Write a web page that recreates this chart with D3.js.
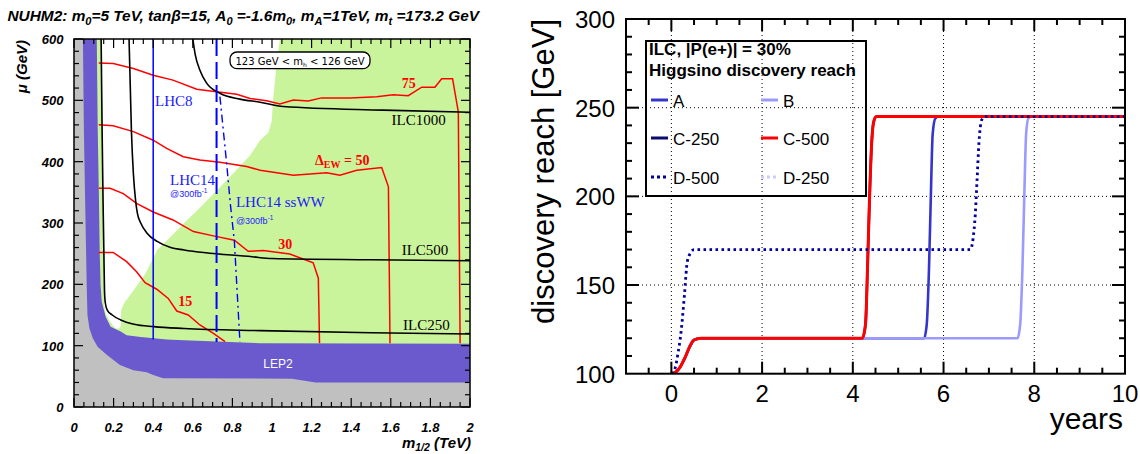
<!DOCTYPE html>
<html><head><meta charset="utf-8">
<script src="https://cdn.jsdelivr.net/npm/d3@7"></script>
<style>body{margin:0;background:#fff}svg{display:block}</style>
</head><body><svg id="c" width="1140" height="454"></svg>
<script>
// ================= LEFT PANEL DATA (NUHM2 plane: m1/2 [TeV], mu [GeV]) =================
const m12Ticks = [0, 0.2, 0.4, 0.6, 0.8, 1, 1.2, 1.4, 1.6, 1.8, 2];
const m12TickLabels = ["0", "0.2", "0.4", "0.6", "0.8", "1", "1.2", "1.4", "1.6", "1.8", "2"];
const muTicks = [0, 100, 200, 300, 400, 500, 600];
// excluded (gray) region upper boundary
const grayTop = [[0.045,600],[0.05,450],[0.056,340],[0.06,272],[0.064,200],[0.068,150],[0.078,128],[0.095,112],[0.12,98],[0.165,85],[0.232,68.5],[0.3,60],[0.367,56.5],[0.4,52],[0.45,47],[1.1,46],[1.18,42],[1.22,40],[2,40]];
// LEP2 band upper boundary
const lep2Top = [[0.115,600],[0.12,450],[0.126,340],[0.13,250],[0.134,200],[0.14,172],[0.16,147],[0.185,131],[0.236,123],[0.266,117],[0.337,114],[0.468,110],[0.556,109],[0.94,104],[2,103]];
// region NOT satisfying 123 < mh < 126 GeV (white)
const noHiggsRegion = [[0.137,600],[1.04,600],[1.024,561],[1.007,506],[0.998,465],[0.981,447],[0.94,435],[0.889,410],[0.805,381],[0.636,325],[0.556,300],[0.505,283],[0.42,256],[0.362,218],[0.303,191],[0.253,169],[0.238,158],[0.236,132],[0.227,128],[0.21,128],[0.194,134],[0.177,142],[0.16,153],[0.152,167],[0.15,250],[0.146,400],[0.142,500]];
// ILC reach contours
const ilc250 = [[0.137,600],[0.142,450],[0.147,330],[0.151,250],[0.154,190],[0.158,170],[0.168,158],[0.193,150],[0.236,142],[0.303,135],[0.404,131],[0.556,128],[0.94,124.5],[1.5,121],[2,119]];
const ilc500 = [[0.278,600],[0.29,450],[0.3,380],[0.311,337],[0.32,316],[0.337,300],[0.37,283],[0.42,270],[0.488,260],[0.556,256],[0.9,245],[1.0,242],[1.5,240],[2,238.5]];
const ilc1000 = [[0.6,600],[0.612,575],[0.636,549],[0.67,528],[0.737,511.5],[0.838,502],[0.94,497],[1.057,490],[1.562,484],[2,480.5]];
// Delta_EW contours
const dew15 = [[0.125,252],[0.198,252],[0.266,237],[0.316,220.6],[0.359,202.7],[0.418,192],[0.476,177],[0.519,156.5],[0.577,150],[0.636,133.7],[0.704,120],[0.763,106.5]];
const dew30 = [[0.125,356.5],[0.182,356.5],[0.249,348],[0.316,332],[0.4,318],[0.5,305],[0.603,286],[0.704,279],[0.81,272],[0.88,254],[0.956,255],[1.09,249.5],[1.208,235],[1.234,210],[1.24,104]];
const dew50 = [[0.125,460],[0.198,458.7],[0.3,449],[0.4,435],[0.468,421.8],[0.552,408],[0.636,402.7],[0.737,399],[0.872,392],[0.94,386],[1.108,378],[1.276,382],[1.343,378],[1.428,386],[1.554,390.4],[1.588,359],[1.596,104]];
const dew75 = [[0.125,561],[0.198,560],[0.3,552],[0.4,541],[0.5,533],[0.62,518],[0.72,514],[0.822,510],[0.889,503],[0.973,499.4],[1.04,494],[1.108,500.6],[1.183,499],[1.25,504],[1.394,504],[1.529,506],[1.612,509],[1.688,507.5],[1.756,521.4],[1.823,521.4],[1.857,535],[1.912,535],[1.941,481],[1.95,104]];
// LHC reach lines
const lhc8 = [[0.4,600],[0.4,110]];
const lhc14 = [[0.72,600],[0.72,106]];
const lhc14ssww = [[0.737,506],[0.771,397],[0.79,330],[0.81,270],[0.838,106]];

// ================= RIGHT PANEL DATA (discovery reach vs years) =================
const yearTicks = [0, 2, 4, 6, 8, 10];
const reachTicks = [100, 150, 200, 250, 300];
const years_A   = [0,0.1,0.2,0.3,0.4,0.5,0.65,5.57,5.63,5.68,5.72,5.76,5.82,5.9,10];
const reach_A   = [100,101,104,109,115,119,120,120,128,160,200,235,244,245,245];
const years_B   = [0,0.1,0.2,0.3,0.4,0.5,0.65,7.63,7.69,7.74,7.78,7.82,7.87,7.95,10];
const reach_B   = [100,101,104,109,115,119,120,120,128,160,200,235,244,245,245];
const years_C250 = [0,0.1,0.2,0.3,0.4,0.5,0.65,4.21,4.28,4.33,4.37,4.42,4.46,4.52,10];
const reach_C250 = [100,101,104,109,115,119,120,120,128,165,200,232,242,245,245];
const years_C500 = [0,0.1,0.2,0.3,0.4,0.5,0.65,4.21,4.28,4.33,4.37,4.42,4.46,4.52,10];
const reach_C500 = [100,101,104,109,115,119,120,120,128,165,200,232,242,245,245];
const years_D500 = [0,0.08,0.15,0.22,0.29,0.35,0.42,0.5,6.59,6.65,6.7,6.74,6.78,6.84,6.92,10];
const reach_D500 = [100,103,112,125,145,163,168,170,170,176,190,210,230,243,245,245];
const years_D250 = [0,0.08,0.15,0.22,0.29,0.35,0.42,0.5,6.59,6.65,6.7,6.74,6.78,6.84,6.92,10];
const reach_D250 = [100,103,112,125,145,163,168,170,170,176,190,210,230,243,245,245];
const seriesNames = ["A", "B", "C-250", "C-500", "D-500", "D-250"];

// ================= DRAWING =================
const svg = d3.select("#c");
const SANS = "'Liberation Sans', Arial, Helvetica, sans-serif";
const SERIF = "'Liberation Serif', 'Times New Roman', serif";

function rich(g, x, y, parts, attrs) {
  const t = g.append("text").attr("x", x).attr("y", y);
  for (const k in attrs) t.attr(k, attrs[k]);
  let cur = 0;
  parts.forEach(([s, shift, size]) => {
    const sp = t.append("tspan").text(s).attr("dy", shift - cur);
    if (size) sp.attr("font-size", size);
    cur = shift;
  });
  return t;
}

// ---------- LEFT PANEL ----------
const L = {x0: 74, x1: 470, y0: 39, y1: 407};
const xL = d3.scaleLinear().domain([0, 2]).range([L.x0, L.x1]);
const yL = d3.scaleLinear().domain([0, 600]).range([L.y1, L.y0]);
const gL = svg.append("g");
svg.append("defs").append("clipPath").attr("id", "clipL")
  .append("rect").attr("x", L.x0).attr("y", L.y0).attr("width", L.x1 - L.x0).attr("height", L.y1 - L.y0);
const pl = gL.append("g").attr("clip-path", "url(#clipL)");
const lineL = d3.line().x(d => xL(d[0])).y(d => yL(d[1]));
const smoothL = d3.line().x(d => xL(d[0])).y(d => yL(d[1])).curve(d3.curveMonotoneX);

// green background (Higgs mass allowed)
pl.append("rect").attr("x", L.x0).attr("y", L.y0).attr("width", L.x1 - L.x0).attr("height", L.y1 - L.y0).attr("fill", "#caf49b");
pl.append("path").attr("d", lineL(noHiggsRegion) + "Z").attr("fill", "#ffffff");
// LEP2 band and excluded region
pl.append("path").attr("d", lineL([[0, 600], ...lep2Top, [2, 0], [0, 0]]) + "Z").attr("fill", "#6a5acd");
pl.append("path").attr("d", lineL([[0, 600], ...grayTop, [2, 0], [0, 0]]) + "Z").attr("fill", "#c0c0c0");

// red Delta_EW contours
[dew15, dew30, dew50, dew75].forEach(c => {
  pl.append("path").attr("d", lineL(c)).attr("fill", "none").attr("stroke", "#ff0000").attr("stroke-width", 1.5);
});
// black ILC contours
[ilc250, ilc500, ilc1000].forEach(c => {
  pl.append("path").attr("d", smoothL(c)).attr("fill", "none").attr("stroke", "#000").attr("stroke-width", 1.6);
});
// blue LHC lines
pl.append("path").attr("d", lineL(lhc8)).attr("stroke", "#0000ff").attr("stroke-width", 1.5).attr("fill", "none");
pl.append("path").attr("d", lineL(lhc14)).attr("stroke", "#0000ff").attr("stroke-width", 2).attr("stroke-dasharray", "17,6").attr("fill", "none");
pl.append("path").attr("d", lineL(lhc14ssww)).attr("stroke", "#0000ff").attr("stroke-width", 1.4).attr("stroke-dasharray", "8,4,2,4").attr("fill", "none");

// annotations
const blue = "#1a1aff";
gL.append("text").attr("x", xL(0.409)).attr("y", yL(491)).text("LHC8").attr("font-family", SERIF).attr("font-size", 15).attr("fill", blue);
gL.append("text").attr("x", xL(0.485)).attr("y", yL(362)).text("LHC14").attr("font-family", SERIF).attr("font-size", 15).attr("fill", blue);
rich(gL, xL(0.485), yL(343), [["@300fb", 0], ["-1", -4, 6.5]], {"font-family": SANS, "font-size": 9, fill: blue});
gL.append("text").attr("x", xL(0.818)).attr("y", yL(326.6)).text("LHC14 ssWW").attr("font-family", SERIF).attr("font-size", 15).attr("fill", blue);
rich(gL, xL(0.818), yL(298.4), [["@300fb", 0], ["-1", -4, 6.5]], {"font-family": SANS, "font-size": 9, fill: blue});
gL.append("text").attr("x", xL(1.604)).attr("y", yL(459.8)).text("ILC1000").attr("font-family", SERIF).attr("font-size", 15).attr("fill", "#000");
gL.append("text").attr("x", xL(1.655)).attr("y", yL(247.8)).text("ILC500").attr("font-family", SERIF).attr("font-size", 15).attr("fill", "#000");
gL.append("text").attr("x", xL(1.662)).attr("y", yL(125.5)).text("ILC250").attr("font-family", SERIF).attr("font-size", 15).attr("fill", "#000");
const redT = {"font-family": SERIF, "font-size": 14, "font-weight": "bold", fill: "#ff0000"};
rich(gL, xL(1.655), yL(519.7), [["75", 0]], redT);
rich(gL, xL(1.032), yL(257.6), [["30", 0]], redT);
rich(gL, xL(0.527), yL(164.7), [["15", 0]], redT);
rich(gL, xL(1.217), yL(394.6), [["\u0394", 0], ["EW", 3, 10], [" = 50", 0]], redT);
gL.append("text").attr("x", xL(0.956)).attr("y", yL(64)).text("LEP2").attr("font-family", SANS).attr("font-size", 12).attr("fill", "#ffffff");
// mh box
gL.append("rect").attr("x", xL(0.788)).attr("y", yL(578.8)).attr("width", xL(1.495) - xL(0.788)).attr("height", yL(551.6) - yL(578.8))
  .attr("rx", 7).attr("fill", "#fff").attr("stroke", "#000").attr("stroke-width", 1.3);
rich(gL, (xL(0.788) + xL(1.495)) / 2, yL(557), [["123 GeV < m", 0], ["h", 2, 6], [" < 126 GeV", 0]],
  {"font-family": "'DejaVu Sans', sans-serif", "font-size": 10, fill: "#000", "text-anchor": "middle"});

// frame and ticks
gL.append("rect").attr("x", L.x0).attr("y", L.y0).attr("width", L.x1 - L.x0).attr("height", L.y1 - L.y0).attr("fill", "none").attr("stroke", "#000").attr("stroke-width", 1.5);
const tkL = gL.append("g").attr("stroke", "#000").attr("stroke-width", 1.2);
d3.range(0, 2.0001, 0.05).forEach(v => {
  const major = Math.abs(v / 0.2 - Math.round(v / 0.2)) < 1e-6;
  const len = major ? 9 : 5;
  tkL.append("line").attr("x1", xL(v)).attr("x2", xL(v)).attr("y1", L.y1).attr("y2", L.y1 - len);
  tkL.append("line").attr("x1", xL(v)).attr("x2", xL(v)).attr("y1", L.y0).attr("y2", L.y0 + len);
});
d3.range(0, 600.001, 20).forEach(v => {
  const major = v % 100 === 0;
  const len = major ? 9 : 5;
  tkL.append("line").attr("y1", yL(v)).attr("y2", yL(v)).attr("x1", L.x0).attr("x2", L.x0 + len);
  tkL.append("line").attr("y1", yL(v)).attr("y2", yL(v)).attr("x1", L.x1).attr("x2", L.x1 - len);
});
const tickFontL = {"font-family": SANS, "font-size": 13, "font-weight": "bold", "font-style": "italic", fill: "#000"};
muTicks.forEach(v => rich(gL, 63.5, yL(v) + 5, [[String(v), 0]], {...tickFontL, "text-anchor": "end"}));
m12Ticks.forEach((v, i) => rich(gL, xL(v), 431.5, [[m12TickLabels[i], 0]], {...tickFontL, "text-anchor": "middle"}));
// titles
const titleF = {"font-family": SANS, "font-size": 15, "font-weight": "bold", "font-style": "italic", fill: "#000"};
rich(gL, 7.5, 21, [["NUHM2: m", 0], ["0", 4, 11], ["=5 TeV, tan\u03B2=15, A", 0], ["0", 4, 11], [" =-1.6m", 0], ["0", 4, 11], [", m", 0], ["A", 4, 11], ["=1TeV, m", 0], ["t", 4, 11], [" =173.2 GeV", 0]], {...titleF, "font-size": 15.4});
rich(gL, 0, 0, [["\u03BC (GeV)", 0]], {...titleF, "text-anchor": "end", transform: "translate(27,40) rotate(-90)"});
rich(gL, 471, 448, [["m", 0], ["1/2", 3, 10.5], [" (TeV)", 0]], {...titleF, "text-anchor": "end"});

// ---------- RIGHT PANEL ----------
const R = {x0: 626, x1: 1125, y0: 19, y1: 373.7};
const xR = d3.scaleLinear().domain([-1, 10]).range([R.x0, R.x1]);
const yR = d3.scaleLinear().domain([100, 300]).range([R.y1, R.y0]);
const gR = svg.append("g");
svg.select("defs").append("clipPath").attr("id", "clipR")
  .append("rect").attr("x", R.x0).attr("y", R.y0).attr("width", R.x1 - R.x0).attr("height", R.y1 - R.y0);
// grid
const grid = gR.append("g").attr("stroke", "#000").attr("stroke-width", 1).attr("stroke-dasharray", "1,3");
[0, 2, 4, 6, 8].forEach(v => grid.append("line").attr("x1", xR(v)).attr("x2", xR(v)).attr("y1", R.y0).attr("y2", R.y1));
[150, 200, 250].forEach(v => grid.append("line").attr("y1", yR(v)).attr("y2", yR(v)).attr("x1", R.x0).attr("x2", R.x1));

const colors = {"A": "#3535cc", "B": "#9a9aff", "C-250": "#0a0a70", "C-500": "#ff0000", "D-500": "#00009a", "D-250": "#ccccff"};
const dashes = {"A": null, "B": null, "C-250": null, "C-500": null, "D-500": "2.5,3.5", "D-250": "2.5,3.5"};
const widths = {"A": 2.6, "B": 2.6, "C-250": 2.6, "C-500": 3, "D-500": 2.8, "D-250": 2.6};
const seriesData = {
  "A": d3.zip(years_A, reach_A), "B": d3.zip(years_B, reach_B),
  "C-250": d3.zip(years_C250, reach_C250), "C-500": d3.zip(years_C500, reach_C500),
  "D-500": d3.zip(years_D500, reach_D500), "D-250": d3.zip(years_D250, reach_D250)
};
const lineR = d3.line().x(d => xR(d[0])).y(d => yR(d[1])).curve(d3.curveMonotoneX);
const pr = gR.append("g").attr("clip-path", "url(#clipR)");
["A", "C-250", "B", "D-250", "C-500", "D-500"].forEach(n => {
  const p = pr.append("path").attr("d", lineR(seriesData[n])).attr("fill", "none")
    .attr("stroke", colors[n]).attr("stroke-width", widths[n]);
  if (dashes[n]) p.attr("stroke-dasharray", dashes[n]);
});

// frame & ticks
gR.append("rect").attr("x", R.x0).attr("y", R.y0).attr("width", R.x1 - R.x0).attr("height", R.y1 - R.y0).attr("fill", "none").attr("stroke", "#000").attr("stroke-width", 2);
const tkR = gR.append("g").attr("stroke", "#000").attr("stroke-width", 2);
d3.range(-0.5, 10, 0.5).forEach(v => {
  const major = Math.abs(v / 2 - Math.round(v / 2)) < 1e-6;
  const len = major ? 12 : 6;
  tkR.append("line").attr("x1", xR(v)).attr("x2", xR(v)).attr("y1", R.y1).attr("y2", R.y1 - len);
  tkR.append("line").attr("x1", xR(v)).attr("x2", xR(v)).attr("y1", R.y0).attr("y2", R.y0 + len);
});
d3.range(110, 300, 10).forEach(v => {
  const major = v % 50 === 0;
  const len = major ? 13 : 6;
  tkR.append("line").attr("y1", yR(v)).attr("y2", yR(v)).attr("x1", R.x0).attr("x2", R.x0 + len);
  tkR.append("line").attr("y1", yR(v)).attr("y2", yR(v)).attr("x1", R.x1).attr("x2", R.x1 - len);
});
const tickFontR = {"font-family": SANS, "font-size": 24, fill: "#000"};
reachTicks.forEach(v => rich(gR, 615, yR(v) + 9, [[String(v), 0]], {...tickFontR, "text-anchor": "end"}));
yearTicks.forEach(v => rich(gR, xR(v), 402, [[String(v), 0]], {...tickFontR, "text-anchor": "middle"}));
rich(gR, 0, 0, [["discovery reach [GeV]", 0]], {"font-family": SANS, "font-size": 31, fill: "#000", "text-anchor": "end", transform: "translate(554,19) rotate(-90)"});
rich(gR, 1123, 429, [["years", 0]], {"font-family": SANS, "font-size": 30, fill: "#000", "text-anchor": "end"});

// legend
const lg = gR.append("g");
lg.append("rect").attr("x", 646).attr("y", 41).attr("width", 220).attr("height", 155).attr("fill", "none").attr("stroke", "#000").attr("stroke-width", 2);
rich(lg, 649, 55, [["ILC, |P(e+)| = 30%", 0]], {"font-family": SANS, "font-size": 17, "font-weight": "bold", fill: "#000"});
rich(lg, 649, 76, [["Higgsino discovery reach", 0]], {"font-family": SANS, "font-size": 17, "font-weight": "bold", fill: "#000"});
const legendRows = [100, 138, 177];
const legendCols = [651, 761];
seriesNames.forEach((n, i) => {
  const lx = legendCols[i % 2], ly = legendRows[Math.floor(i / 2)];
  const l = lg.append("line").attr("x1", lx).attr("x2", lx + 17).attr("y1", ly).attr("y2", ly)
    .attr("stroke", colors[n]).attr("stroke-width", 3);
  if (dashes[n]) l.attr("stroke-dasharray", "3,3");
  rich(lg, lx + 22, ly + 6.5, [[n, 0]], {"font-family": SANS, "font-size": 17, fill: "#000"});
});
</script></body></html>
